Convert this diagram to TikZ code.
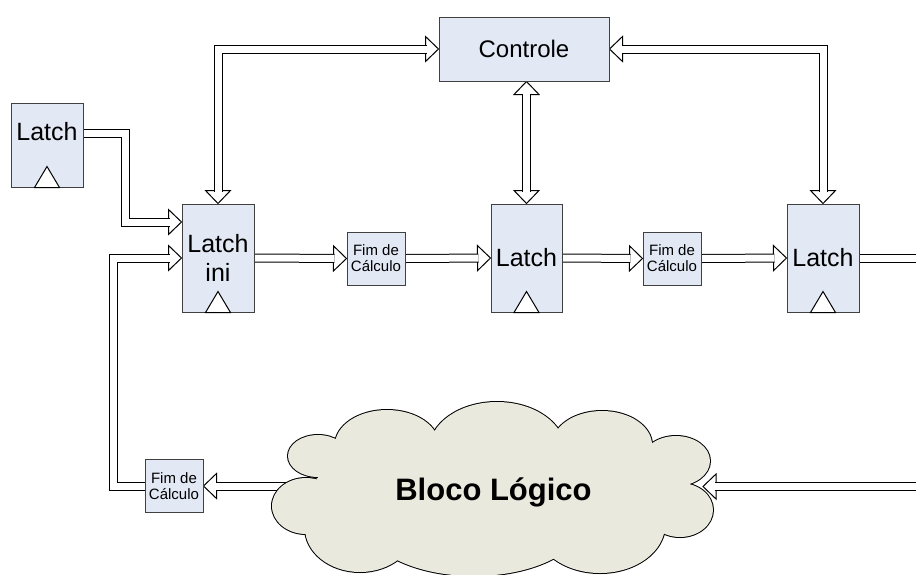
\documentclass[tikz,border=0pt]{standalone}
\usepackage{fontspec}
\setmainfont{Liberation Sans}
\usetikzlibrary{calc,backgrounds,decorations.markings}

\definecolor{boxfill}{RGB}{226,233,245}
\definecolor{cloudfill}{RGB}{233,233,222}
\definecolor{boxline}{RGB}{64,64,64}

\tikzset{
  headshape/.style={draw=black,line width=1pt,fill=white,line join=miter},
  headend/.style={decorate,decoration={markings,
      mark=at position 1 with {\draw[headshape] (0,0) -- (-13,12.5) -- (-13,-12.5) -- cycle;}}},
  headboth/.style={decorate,decoration={markings,
      mark=at position 0 with {\draw[headshape] (0,0) -- (13,12.5) -- (13,-12.5) -- cycle;},
      mark=at position 1 with {\draw[headshape] (0,0) -- (-13,12.5) -- (-13,-12.5) -- cycle;}}},
  shaft/.style={draw=black,line width=1pt,double=white,double distance=7pt,line join=miter},
  shaftfwd/.style={shaft,shorten >=12pt},
  shaftboth/.style={shaft,shorten >=12pt,shorten <=12pt},
  blockbase/.style={draw=boxline,line width=1pt,fill=boxfill,inner sep=0pt,align=center},
  latchbox/.style={blockbase,minimum width=72pt,minimum height=108pt,font=\fontsize{25}{29}\selectfont},
  fimbox/.style={blockbase,minimum width=58pt,minimum height=53pt,font=\fontsize{15}{16}\selectfont},
  ctrlbox/.style={blockbase,minimum width=170pt,minimum height=64pt,font=\fontsize{24}{28}\selectfont},
  clock/.style={draw=black,line width=1pt,fill=white,line join=miter},
  cloudrim/.style={draw=black,line width=2pt},
}

% hollow connectors: heads first, then the double shaft over their bases
\newcommand\fwdlink[1]{\path[headend] #1; \draw[shaftfwd] #1;}
\newcommand\bothlink[1]{\path[headboth] #1; \draw[shaftboth] #1;}
% clock marker at the bottom of a latch
\newcommand\clockmark[1]{\draw[clock] ($(#1.south)+(-12.5,0)$) -- ++(12.5,-21) -- ++(12.5,21) -- cycle;}
% puffs of the logic cloud: centre x / centre y / x radius / y radius
\newcommand\cloudpuffs{318/456/30/21, 306/506/34/28, 360/528/55/44, 474/520/110/56,
  600/525/65/48, 680/510/33/27, 676/461/34/25, 602/445/50/34, 497/450/68/48, 387/445/52/35}

\begin{document}
\begin{tikzpicture}[x=1pt,y=-1pt]
\useasboundingbox (0,0) rectangle (916,574);

% blocks
\node[latchbox,minimum height=84pt] (ll) at (47,145) {};
\node[font=\fontsize{25}{29}\selectfont] (lltxt) at (47,132) {Latch};
\node[latchbox] (ini) at (218,258) {Latch\\ini};
\node[latchbox,minimum width=71pt] (ml) at (526.5,258) {Latch};
\node[latchbox] (rl) at (823,258) {Latch};
\node[fimbox] (f1) at (376,258.5) {Fim de\\Cálculo};
\node[fimbox] (f2) at (672,258.5) {Fim de\\Cálculo};
\node[fimbox] (f3) at (174,486) {Fim de\\Cálculo};
\node[ctrlbox] (ctrl) at (524,49) {Controle};

\foreach \l in {ll,ini,ml,rl} {\clockmark{\l}}

% logic cloud: stroked puffs, then their fills hide the inner parts of the rims
\coordinate (cloud) at (494,487);
\foreach \cx/\cy/\rx/\ry in \cloudpuffs
  {\draw[cloudrim] (\cx,\cy) ellipse [x radius=\rx, y radius=\ry];}
\foreach \cx/\cy/\rx/\ry in \cloudpuffs
  {\fill[cloudfill] (\cx,\cy) ellipse [x radius=\rx, y radius=\ry];}
\fill[cloudfill] (494,490) ellipse [x radius=180, y radius=60];
\node[anchor=base,font=\bfseries\fontsize{31}{36}\selectfont] (cloudtxt) at (493.5,500.5) {Bloco Lógico};

% free ends and offset attachment points
\coordinate (llout) at ($(ll.east)+(0,-11.5)$);
\coordinate (iniA) at ($(ini.west)+(0,-36)$);
\coordinate (rout) at (917,258);
\coordinate (rin) at (917,486.5);
\coordinate (cin) at ($(cloud)+(209,-0.5)$);

% connectors
\begin{scope}[on background layer]
  \bothlink{(ctrl.west) -| (ini.north)}
  \bothlink{(ml.north |- ctrl.south) -- (ml.north)}
  \bothlink{(ctrl.east) -| (rl.north)}
  \fwdlink{(llout) -- ++(42,0) |- (iniA)}
  \fwdlink{(f3.west) -- ++(-31,0) |- (ini.west)}
  \fwdlink{(ini.east) -- (f1.west)}
  \fwdlink{(f1.east) -- (ml.west)}
  \fwdlink{(ml.east) -- (f2.west)}
  \fwdlink{(f2.east) -- (rl.west)}
  \draw[shaft] (rl.east) -- (rout);
  \fwdlink{(cloud |- f3.east) -- (f3.east)}
  \fwdlink{(rin) -- (cin)}
\end{scope}
\end{tikzpicture}
\end{document}
